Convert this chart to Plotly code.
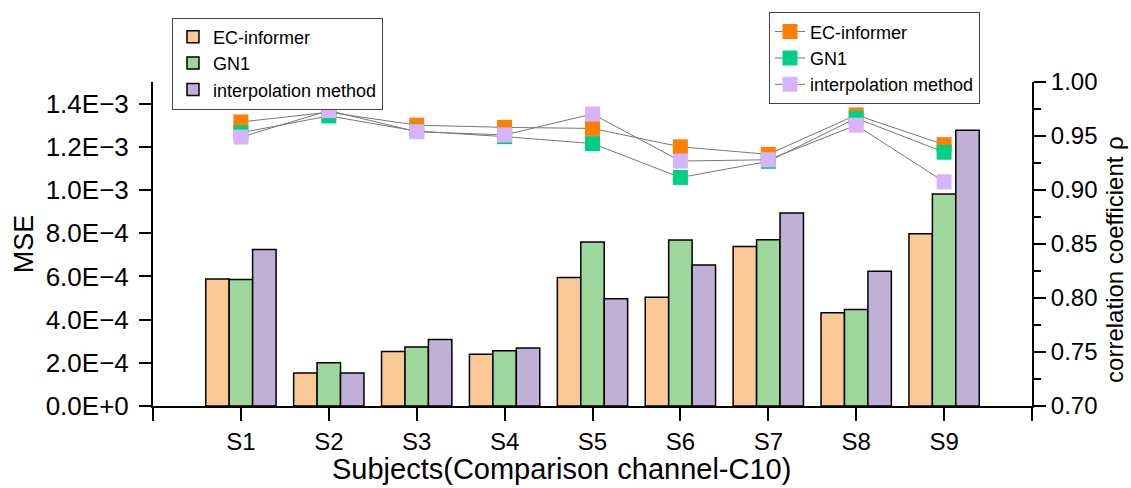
import plotly.graph_objects as go

subjects = ["S1", "S2", "S3", "S4", "S5", "S6", "S7", "S8", "S9"]
x_pos = [1, 2, 3, 4, 5, 6, 7, 8, 9]

# MSE (bars, left axis)
mse_ec = [5.88e-4, 1.53e-4, 2.52e-4, 2.40e-4, 5.95e-4, 5.03e-4, 7.38e-4, 4.32e-4, 7.97e-4]
mse_gn1 = [5.86e-4, 2.00e-4, 2.73e-4, 2.56e-4, 7.59e-4, 7.68e-4, 7.70e-4, 4.47e-4, 9.82e-4]
mse_interp = [7.24e-4, 1.53e-4, 3.08e-4, 2.69e-4, 4.97e-4, 6.53e-4, 8.94e-4, 6.24e-4, 1.277e-3]

# correlation coefficient (markers, right axis)
rho_ec = [0.963, 0.972, 0.960, 0.958, 0.957, 0.940, 0.933, 0.9695, 0.942]
rho_gn1 = [0.953, 0.9686, 0.9545, 0.9494, 0.943, 0.9116, 0.9265, 0.9665, 0.935]
rho_interp = [0.949, 0.9735, 0.954, 0.951, 0.9704, 0.9268, 0.928, 0.960, 0.9076]

series_names = ["EC-informer", "GN1", "interpolation method"]
bar_colors = ["#FBC995", "#9ED79C", "#C0B0D6"]
marker_colors = ["#FF8000", "#00D084", "#D8B4FE"]

left_tickvals = [0, 2e-4, 4e-4, 6e-4, 8e-4, 1.0e-3, 1.2e-3, 1.4e-3]
left_ticktext = ["0.0E+0", "2.0E\u22124", "4.0E\u22124", "6.0E\u22124", "8.0E\u22124",
                 "1.0E\u22123", "1.2E\u22123", "1.4E\u22123"]
right_tickvals = [0.70, 0.75, 0.80, 0.85, 0.90, 0.95, 1.00]
right_ticktext = ["0.70", "0.75", "0.80", "0.85", "0.90", "0.95", "1.00"]

x_title = "Subjects(Comparison channel-C10)"
y_title = "MSE"
y2_title = "correlation coefficient \u03c1"

FONT = "Liberation Sans, Arial, sans-serif"

fig = go.Figure()

for name, vals, col in zip(series_names, [mse_ec, mse_gn1, mse_interp], bar_colors):
    fig.add_trace(go.Bar(
        x=x_pos, y=vals, name=name, marker=dict(color=col, line=dict(color="black", width=1.5)),
        legend="legend", yaxis="y"))

for name, vals, col in zip(series_names, [rho_ec, rho_gn1, rho_interp], marker_colors):
    fig.add_trace(go.Scatter(
        x=x_pos, y=vals, name=name, mode="lines+markers",
        line=dict(color="#777777", width=1),
        marker=dict(symbol="square", size=15, color=col, line=dict(width=0)),
        legend="legend2", yaxis="y2"))

fig.update_layout(
    width=1131, height=488,
    margin=dict(l=153, r=99, t=80, b=82),
    plot_bgcolor="white", paper_bgcolor="white",
    font=dict(family=FONT, size=24, color="black"),
    barmode="group", bargap=0.2, bargroupgap=0,
    xaxis=dict(
        range=[0, 10], tickvals=[0] + x_pos + [10], ticktext=[""] + subjects + [""],
        showline=True, linecolor="black", linewidth=2, ticks="outside", ticklen=13, tickwidth=2,
        tickcolor="black", showgrid=False, zeroline=False,
        tickfont=dict(size=24)),
    yaxis=dict(
        range=[0, 1.5e-3], tickvals=left_tickvals, ticktext=left_ticktext,
        showline=True, linecolor="black", linewidth=2, ticks="outside", ticklen=12, tickwidth=2,
        tickcolor="black", showgrid=False, zeroline=False, ticklabelstandoff=5,
        title=dict(text=y_title, font=dict(size=27), standoff=4), tickfont=dict(size=26)),
    yaxis2=dict(
        range=[0.7, 1.0], tickvals=right_tickvals, ticktext=right_ticktext,
        overlaying="y", side="right", anchor="x",
        showline=True, linecolor="black", linewidth=2, ticks="outside", ticklen=12, tickwidth=2,
        tickcolor="black", showgrid=False, zeroline=False,
        minor=dict(dtick=0.025, tick0=0.7, ticks="outside", ticklen=7, tickwidth=2, tickcolor="black"),
        tickfont=dict(size=24)),
    legend=dict(x=0.0216, y=1.199, xanchor="left", yanchor="top", bordercolor="#444444", borderwidth=1,
                bgcolor="white", font=dict(size=18), tracegroupgap=0,
                traceorder="normal"),
    legend2=dict(x=0.7008, y=1.215, xanchor="left", yanchor="top", bordercolor="#444444", borderwidth=1,
                 bgcolor="white", font=dict(size=18), tracegroupgap=0, traceorder="normal"),
    annotations=[
        dict(text=x_title, xref="paper", yref="paper", x=(561 - 153) / 879, y=-0.14,
             xanchor="center", yanchor="top", showarrow=False, font=dict(size=29)),
        dict(text=y2_title, xref="paper", yref="paper", x=(1115 - 153) / 879, y=(406 - 259) / 326,
             xanchor="center", yanchor="middle", textangle=-90, showarrow=False, font=dict(size=24)),
    ],
)

fig.write_html("out.html")
